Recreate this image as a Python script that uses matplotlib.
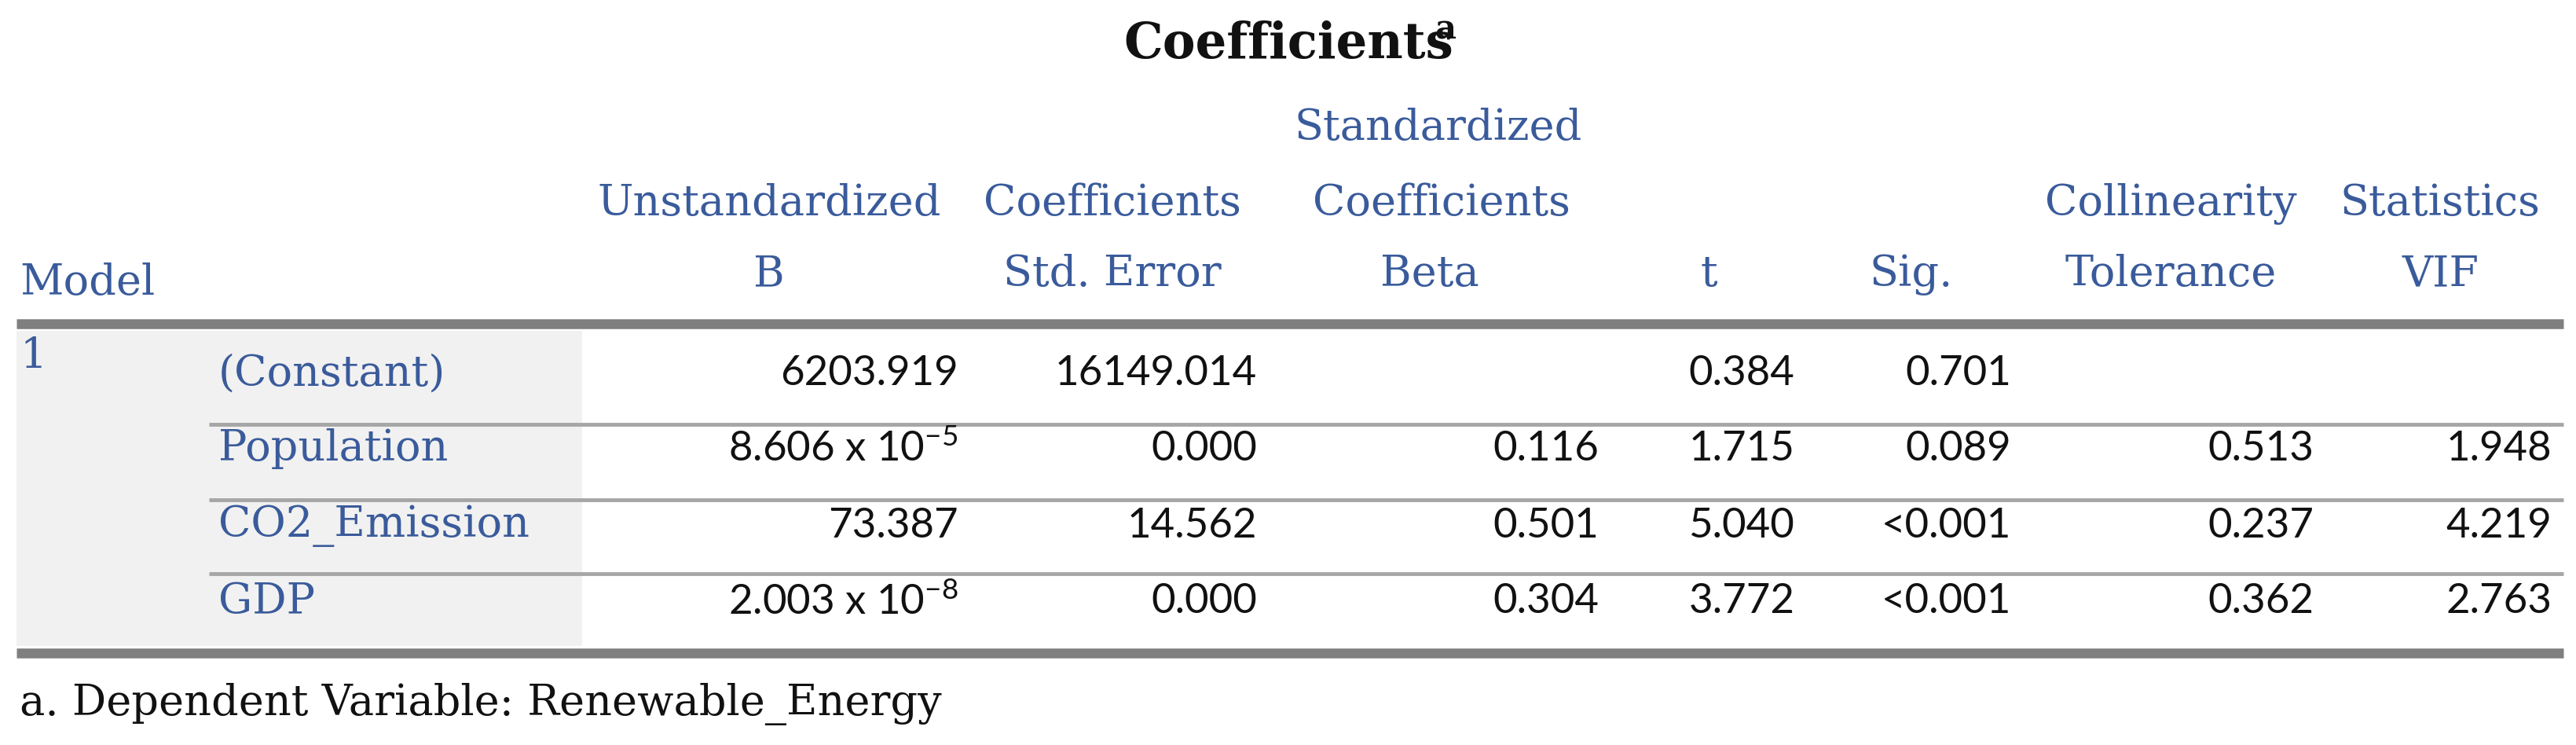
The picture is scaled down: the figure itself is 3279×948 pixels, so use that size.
import matplotlib
matplotlib.use("Agg")
import matplotlib.pyplot as plt

# ── table content ─────────────────────────────────────────────
TITLE = "Coefficients"
FOOTNOTE = "a. Dependent Variable: Renewable_Energy"
ROW_LABELS = ["(Constant)", "Population", "CO2_Emission", "GDP"]
COL_B = ["6203.919", "8.606 x 10$^{-5}$", "73.387", "2.003 x 10$^{-8}$"]
COL_SE = ["16149.014", "0.000", "14.562", "0.000"]
COL_BETA = ["", "0.116", "0.501", "0.304"]
COL_T = ["0.384", "1.715", "5.040", "3.772"]
COL_SIG = ["0.701", "0.089", "<0.001", "<0.001"]
COL_TOL = ["", "0.513", "0.237", "0.362"]
COL_VIF = ["", "1.948", "4.219", "2.763"]

BLUE = "#3a5b9b"
DARK = "#111111"
BAR = "#7f7f7f"
LINE = "#a6a6a6"
SHADE = "#f1f1f1"
SERIF = "DejaVu Serif"
SANS = "Lato"

plt.rcParams["mathtext.default"] = "regular"

fig = plt.figure(figsize=(32.8, 9.48), dpi=100)
ax = fig.add_axes([0, 0, 1, 1])
ax.set_xlim(0, 1568)
ax.set_ylim(453, 0)
ax.axis("off")

FS = 39
# title
ax.text(784, 27, TITLE, ha="center", va="center", fontsize=45, fontweight="bold",
        family=SERIF, color=DARK)
ax.text(873, 18, "a", ha="left", va="center", fontsize=30, fontweight="bold",
        family=SERIF, color=DARK)

# header
hdr = [
    (12, 172, "Model", "left"),
    (468, 124, "Unstandardized", "center"), (468, 167, "B", "center"),
    (677, 124, "Coefficients", "center"), (677, 167, "Std. Error", "center"),
    (875, 78, "Standardized", "center"), (877, 124, "Coefficients", "center"),
    (870, 167, "Beta", "center"),
    (1040, 167, "t", "center"), (1163, 167, "Sig.", "center"),
    (1321, 124, "Collinearity", "center"), (1321, 167, "Tolerance", "center"),
    (1485, 124, "Statistics", "center"), (1485, 167, "VIF", "center"),
]
for x, y, s, ha in hdr:
    ax.text(x, y, s, ha=ha, va="center", fontsize=FS, family=SERIF, color=BLUE)

# shading and rules
ax.add_patch(plt.Rectangle((10, 201), 344, 192, color=SHADE, lw=0, zorder=0))
ax.plot([10, 1560], [197, 197], color=BAR, lw=9, solid_capstyle="butt")
ax.plot([10, 1560], [397, 397], color=BAR, lw=9, solid_capstyle="butt")
for y in [258, 304, 349]:
    ax.plot([127, 1560], [y, y], color=LINE, lw=3.5, solid_capstyle="butt")

ax.text(12, 217, "1", ha="left", va="center", fontsize=FS, family=SERIF, color=BLUE)

row_y = [227, 273, 320, 366]
cols = [(583, COL_B), (765, COL_SE), (973, COL_BETA), (1092, COL_T),
        (1224, COL_SIG), (1408, COL_TOL), (1553, COL_VIF)]
for i, y in enumerate(row_y):
    ax.text(133, y, ROW_LABELS[i], ha="left", va="center", fontsize=FS,
            family=SERIF, color=BLUE)
    for x, col in cols:
        if col[i]:
            ax.text(x, y, col[i], ha="right", va="center", fontsize=38,
                    family=SANS, color=DARK)

ax.text(12, 428, FOOTNOTE, ha="left", va="center", fontsize=FS, family=SERIF, color=DARK)

fig.savefig("out.png", dpi=100, facecolor="white")
